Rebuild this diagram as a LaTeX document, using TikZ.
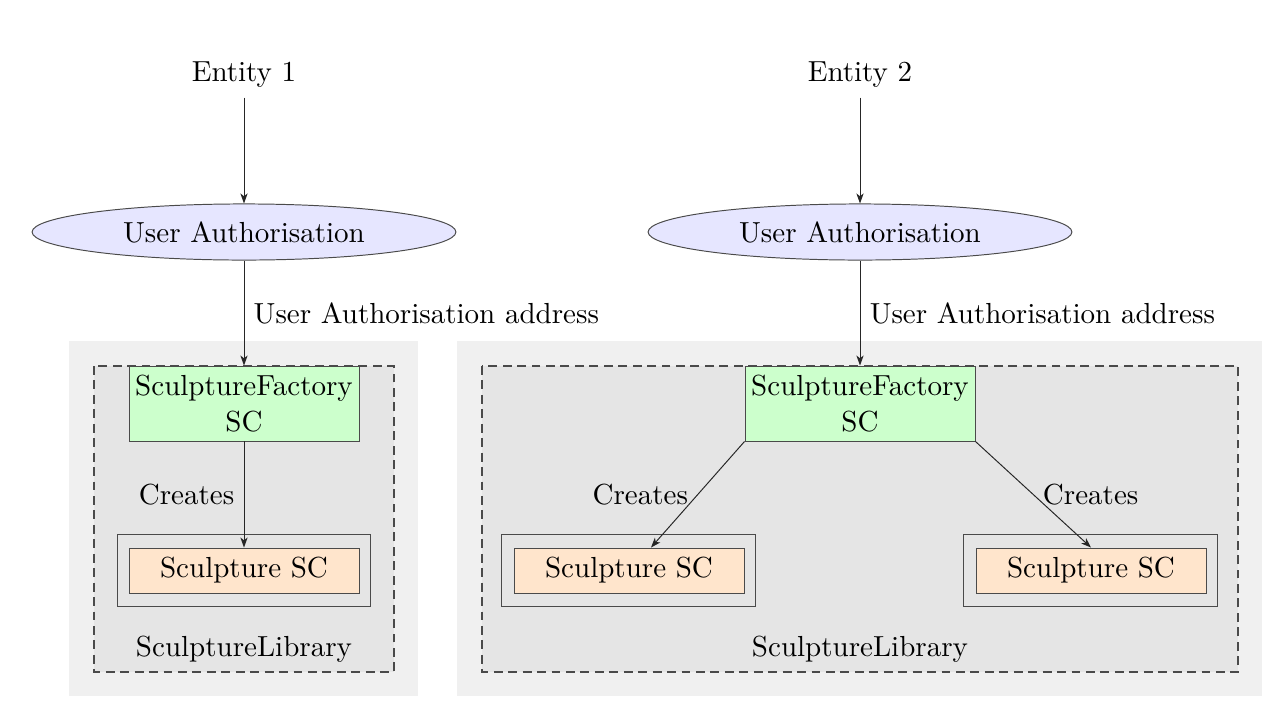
\documentclass[tikz,border=0pt]{standalone}
\usetikzlibrary{shapes.geometric,arrows.meta,calc}
\definecolor{bgout}{HTML}{F0F0F0}
\definecolor{bgin}{HTML}{E5E5E5}
\definecolor{authfill}{HTML}{E6E6FF}
\definecolor{factfill}{HTML}{CCFFCC}
\definecolor{sculfill}{HTML}{FFE5CC}
\definecolor{edgecol}{HTML}{4A4A4A}
\tikzset{
  auth/.style={ellipse, draw=edgecol, fill=authfill, minimum width=152.6pt, minimum height=20.2pt, inner sep=0pt},
  factory/.style={rectangle, draw=edgecol, fill=factfill, minimum width=82.8pt, minimum height=27pt, inner sep=0pt, align=center},
  sculpt/.style={rectangle, draw=edgecol, fill=sculfill, minimum width=82.8pt, minimum height=16.2pt, inner sep=0pt},
  sculptframe/.style={rectangle, draw=edgecol, fill=bgin, minimum width=91.4pt, minimum height=25.6pt, inner sep=0pt},
  libbox/.style={draw=edgecol, line width=0.45pt, dash pattern=on 3.2pt off 2pt, fill=bgin},
  panel/.style={fill=bgout, draw=none},
  conn/.style={draw=black!85, -{Stealth[length=3.6pt,width=2.6pt,inset=1pt]}},
  plain/.style={inner sep=3.33pt}
}
\begin{document}
\begin{tikzpicture}[x=0.36pt,y=-0.36pt,line width=0.35pt,font=\fontsize{10.45}{13}\selectfont]
\useasboundingbox (0,0) rectangle (1280,715);
% panels
\fill[panel] (69,341) rectangle (418,696);
\fill[panel] (457,341) rectangle (1262,696);
\filldraw[libbox] (94,366) rectangle (394,672);
\filldraw[libbox] (482,366) rectangle (1238,672);

% left side
\node[plain] (e1) at (244,75) {Entity 1};
\node[auth] (a1) at (244,232) {User Authorisation};
\node[factory] (f1) at (244,403.5) {SculptureFactory\\SC};
\node[sculptframe] (o1) at (244,570.5) {};
\node[sculpt] (s1) at (244,570.5) {Sculpture SC};
\node[plain] (l1) at (244,649) {SculptureLibrary};
\draw[conn] (e1) -- (a1);
\draw[conn] (a1) -- node[right] {User Authorisation address} (f1);
\draw[conn] (f1) -- node[left] {Creates} (s1);

% right side
\node[plain] (e2) at (860,75) {Entity 2};
\node[auth] (a2) at (860,232) {User Authorisation};
\node[factory] (f2) at (860,403.5) {SculptureFactory\\SC};
\node[sculptframe] (o2) at (628.5,570.5) {};
\node[sculpt] (s2) at (629,570.5) {Sculpture SC};
\node[sculptframe] (o3) at (1090.5,570.5) {};
\node[sculpt] (s3) at (1091,570.5) {Sculpture SC};
\node[plain] (l2) at (860,649) {SculptureLibrary};
\coordinate (t2) at ($(s2.north)+(22,0)$);
\draw[conn] (e2) -- (a2);
\draw[conn] (a2) -- node[right] {User Authorisation address} (f2);
\draw[conn] (f2.south west) -- node[left] {Creates} (t2);
\draw[conn] (f2.south east) -- node[right] {Creates} (s3.north);
\end{tikzpicture}
\end{document}
